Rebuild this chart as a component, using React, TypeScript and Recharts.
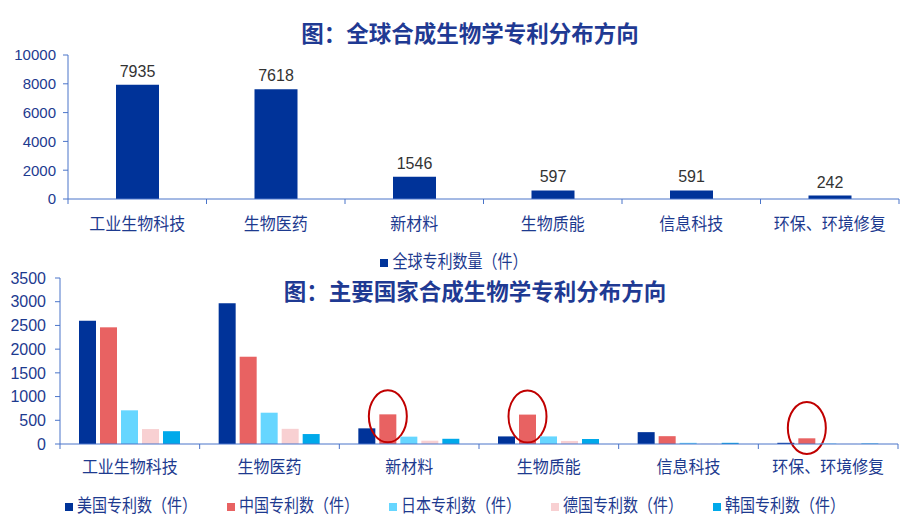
import React from 'react';
import { BarChart, Bar, XAxis, YAxis, Legend, LabelList } from 'recharts';

const categories = ['工业生物科技', '生物医药', '新材料', '生物质能', '信息科技', '环保、环境修复'];
const globalPatents = [7935, 7618, 1546, 597, 591, 242];
const usPatents = [2600, 2970, 330, 160, 250, 25];
const cnPatents = [2460, 1840, 625, 620, 165, 120];
const jpPatents = [710, 660, 155, 160, 25, 10];
const dePatents = [315, 320, 70, 65, 5, 3];
const krPatents = [270, 210, 110, 105, 25, 10];
const cnCircled = [false, false, true, true, false, true];

const topTicks = [0, 2000, 4000, 6000, 8000, 10000];
const bottomTicks = [0, 500, 1000, 1500, 2000, 2500, 3000, 3500];
const boundaryTicks = [0, 0.5, 1, 1.5, 2, 2.5, 3, 3.5, 4, 4.5, 5, 5.5, 6];
const seriesOrder = ['us', 'cn', 'jp', 'de', 'kr'];

const topTitle = '图：全球合成生物学专利分布方向';
const bottomTitle = '图：主要国家合成生物学专利分布方向';
const globalName = '全球专利数量（件）';
const usName = '美国专利数（件）';
const cnName = '中国专利数（件）';
const jpName = '日本专利数（件）';
const deName = '德国专利数（件）';
const krName = '韩国专利数（件）';

const FONT = '"Liberation Sans", Arial, "Noto Sans CJK SC", sans-serif';
const AXIS_COLOR = '#4A74C9';
const TEXT_COLOR = '#1D3A8F';
const TITLE_COLOR = '#1F3A93';

// category i sits in the middle of slot [i, i+1] on a 0..6 axis
const topData = categories.map((name, i) => ({ name, pos: i + 0.5, global: globalPatents[i] }));
const bottomData = categories.map((name, i) => ({
  name,
  pos: i + 0.5,
  us: usPatents[i],
  cn: cnPatents[i],
  jp: jpPatents[i],
  de: dePatents[i],
  kr: krPatents[i],
  circled: cnCircled[i],
}));

const CategoryTick = (props: any) => {
  const { x, y, payload, labelOffset } = props;
  const v = payload.value as number;
  if (Number.isInteger(v)) {
    return <line x1={x} x2={x} y1={y} y2={y + 5} stroke={AXIS_COLOR} strokeWidth={1} />;
  }
  const cy = y + labelOffset;
  return (
    <text
      x={x}
      y={cy}
      textAnchor="middle"
      dominantBaseline="central"
      fill={TEXT_COLOR}
      fontSize={16}
      transform={`translate(0,${cy}) scale(1,1.1) translate(0,${-cy})`}
    >
      {categories[Math.floor(v)]}
    </text>
  );
};

const ChinaShape = (props: any) => {
  const { x, y, width, height, fill, payload } = props;
  const bottom = y + height;
  const cx = x + width / 2;
  const cy = Math.min(y + 2, bottom - 16);
  return (
    <g>
      <rect x={x} y={y} width={width} height={height} fill={fill} />
      {payload && payload.circled ? (
        <ellipse cx={cx} cy={cy} rx={19} ry={26} fill="none" stroke="#C00000" strokeWidth={2} />
      ) : null}
    </g>
  );
};

const legendFormatter = (gap: number) => (value: any) => (
  <span
    style={{
      color: TEXT_COLOR,
      marginRight: gap,
      display: 'inline-block',
      transform: 'scaleY(1.2)',
    }}
  >
    {value}
  </span>
);

const legendSorter = (item: any) => seriesOrder.indexOf(item.dataKey);

export default function App() {
  return (
    <div
      style={{
        position: 'absolute',
        left: 0,
        top: 0,
        width: 900,
        height: 521,
        background: '#fff',
        fontFamily: FONT,
        overflow: 'hidden',
      }}
    >
      <div style={{ position: 'absolute', left: 0, top: 0 }}>
        <BarChart width={900} height={280} data={topData} margin={{ top: 55, right: 1, left: 0, bottom: 51 }}>
          <XAxis
            dataKey="pos"
            type="number"
            domain={[0, 6]}
            allowDataOverflow
            ticks={boundaryTicks}
            interval={0}
            tickSize={0}
            tickMargin={0}
            tickLine={false}
            axisLine={{ stroke: AXIS_COLOR }}
            height={30}
            tick={(p: any) => <CategoryTick {...p} labelOffset={25} />}
          />
          <YAxis
            type="number"
            domain={[0, 10000]}
            ticks={topTicks}
            width={68}
            tickSize={5}
            tickMargin={7}
            axisLine={{ stroke: AXIS_COLOR }}
            tickLine={{ stroke: AXIS_COLOR }}
            tick={{ fill: TEXT_COLOR, fontSize: 15 }}
          />
          <Legend
            verticalAlign="middle"
            align="center"
            layout="horizontal"
            iconType="square"
            iconSize={8}
            formatter={legendFormatter(0)}
            wrapperStyle={{ top: 252, left: 18, width: 882, fontSize: 15, lineHeight: '20px' }}
          />
          <Bar dataKey="global" name={globalName} fill="#003399" barSize={43} isAnimationActive={false}>
            <LabelList dataKey="global" position="top" offset={8} fill="#333333" fontSize={16} />
          </Bar>
        </BarChart>
      </div>

      <div style={{ position: 'absolute', left: 0, top: 250 }}>
        <BarChart
          width={900}
          height={271}
          data={bottomData}
          margin={{ top: 28, right: 2, left: 0, bottom: 47 }}
          barGap={4}
        >
          <XAxis
            dataKey="pos"
            type="number"
            domain={[0, 6]}
            allowDataOverflow
            ticks={boundaryTicks}
            interval={0}
            tickSize={0}
            tickMargin={0}
            tickLine={false}
            axisLine={{ stroke: AXIS_COLOR }}
            height={30}
            tick={(p: any) => <CategoryTick {...p} labelOffset={23} />}
          />
          <YAxis
            type="number"
            domain={[0, 3500]}
            ticks={bottomTicks}
            width={60}
            tickSize={5}
            tickMargin={9}
            axisLine={{ stroke: AXIS_COLOR }}
            tickLine={{ stroke: AXIS_COLOR }}
            tick={{ fill: TEXT_COLOR, fontSize: 16 }}
          />
          <Legend
            verticalAlign="middle"
            align="center"
            layout="horizontal"
            iconType="square"
            iconSize={8}
            itemSorter={legendSorter}
            formatter={legendFormatter(20)}
            wrapperStyle={{ top: 246, left: 40, width: 860, fontSize: 15, lineHeight: '20px' }}
          />
          <Bar dataKey="us" name={usName} fill="#003399" barSize={17} isAnimationActive={false} />
          <Bar dataKey="cn" name={cnName} fill="#E86262" barSize={17} isAnimationActive={false} shape={(p: any) => <ChinaShape {...p} />} />
          <Bar dataKey="jp" name={jpName} fill="#66D6FF" barSize={17} isAnimationActive={false} />
          <Bar dataKey="de" name={deName} fill="#F8D0D2" barSize={17} isAnimationActive={false} />
          <Bar dataKey="kr" name={krName} fill="#00A9EA" barSize={17} isAnimationActive={false} />
        </BarChart>
      </div>

      <div
        style={{
          position: 'absolute',
          left: 0,
          top: 20,
          width: 940,
          textAlign: 'center',
          fontSize: 22.5,
          lineHeight: '30px',
          fontWeight: 'bold',
          color: TITLE_COLOR,
        }}
      >
        {topTitle}
      </div>
      <div
        style={{
          position: 'absolute',
          left: 0,
          top: 278,
          width: 950,
          textAlign: 'center',
          fontSize: 22.5,
          lineHeight: '30px',
          fontWeight: 'bold',
          color: TITLE_COLOR,
        }}
      >
        {bottomTitle}
      </div>
    </div>
  );
}
